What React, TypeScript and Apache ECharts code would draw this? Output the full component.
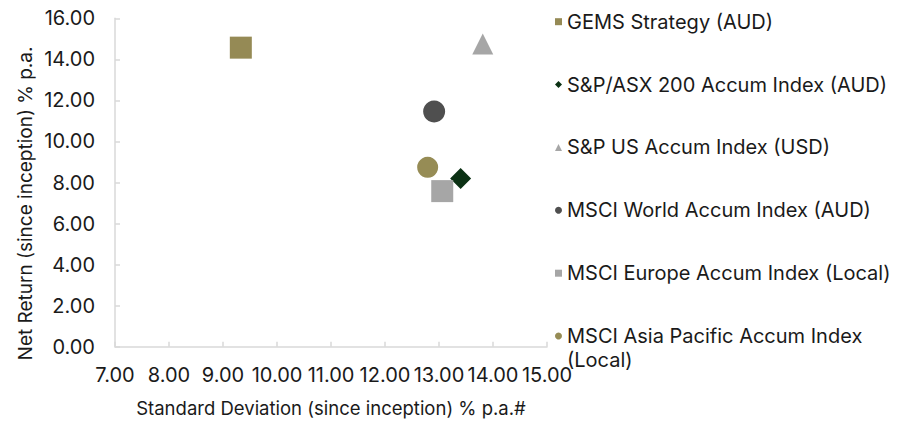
import React, { useEffect, useRef } from "react";
import * as echarts from "echarts";

const seriesNames = [
  "GEMS Strategy (AUD)",
  "S&P/ASX 200 Accum Index (AUD)",
  "S&P US Accum Index (USD)",
  "MSCI World Accum Index (AUD)",
  "MSCI Europe Accum Index (Local)",
  "MSCI Asia Pacific Accum Index (Local)",
];
// [standard deviation, net return]
const gemsStrategy = [[9.33, 14.57]];
const asx200 = [[13.4, 8.19]];
const spUs = [[13.81, 14.75]];
const msciWorld = [[12.91, 11.46]];
const msciEurope = [[13.06, 7.58]];
const msciAsiaPacific = [[12.79, 8.74]];

const seriesData = [gemsStrategy, asx200, spUs, msciWorld, msciEurope, msciAsiaPacific];
const symbols = ["rect", "diamond", "triangle", "circle", "rect", "circle"];
const symbolSizes: any[] = [22, 21, [21, 21], 22, 22, 21];
const colors = ["#958A55", "#0B3114", "#A6A6A6", "#4F4F4F", "#A6A6A6", "#968C55"];

const xMin = 7;
const xMax = 15;
const yMin = 0;
const yMax = 16;

const FONT = "Inter";
const TEXT = "#1A1A1A";
const AXIS = "#D9D9D9";

export default function App() {
  const ref = useRef<HTMLDivElement>(null);
  useEffect(() => {
    if (!ref.current) return;
    const chart = echarts.init(ref.current, null, { renderer: "svg" });
    const rowCenters = [21.7, 84.6, 147.4, 210.3, 273.2, 336];
    const LH = 24;
    const legends = seriesNames.map((name, i) => {
      const last = i === seriesNames.length - 1;
      return {
        left: 555,
        top: last ? rowCenters[i] - 1.5 * LH : rowCenters[i] - LH / 2,
        padding: 0,
        itemGap: 0,
        itemWidth: 7,
        itemHeight: 7,
        selectedMode: false,
        formatter: (n: string) =>
          n === "MSCI Asia Pacific Accum Index (Local)" ? "\nMSCI Asia Pacific Accum Index\n(Local)" : n,
        textStyle: { fontFamily: FONT, fontSize: 20, color: TEXT, lineHeight: LH },
        data: [name],
      };
    });
    chart.setOption({
      animation: false,
      textStyle: { fontFamily: FONT },
      grid: { left: 115, right: 361, top: 18.3, bottom: 77.3, containLabel: false },
      legend: legends,
      xAxis: {
        type: "value",
        min: xMin,
        max: xMax,
        interval: 1,
        name: "Standard Deviation (since inception) % p.a.#",
        nameLocation: "middle",
        nameGap: 52,
        nameTextStyle: { fontFamily: FONT, fontSize: 18.5, color: TEXT },
        axisLine: { show: true, lineStyle: { color: AXIS, width: 1.5 } },
        axisTick: { show: true, inside: true, length: 5, lineStyle: { color: AXIS, width: 1.5 } },
        splitLine: { show: false },
        axisLabel: {
          fontFamily: FONT,
          fontSize: 20,
          color: TEXT,
          margin: 18,
          formatter: (v: number) => v.toFixed(2),
        },
      },
      yAxis: {
        type: "value",
        min: yMin,
        max: yMax,
        interval: 2,
        name: "Net Return (since inception) % p.a.",
        nameLocation: "middle",
        nameGap: 80,
        nameTextStyle: { fontFamily: FONT, fontSize: 19, color: TEXT, padding: [0, 42, 0, 0] },
        axisLine: { show: true, lineStyle: { color: AXIS, width: 1.5 } },
        axisTick: { show: true, inside: true, length: 5, lineStyle: { color: AXIS, width: 1.5 } },
        splitLine: { show: false },
        axisLabel: {
          fontFamily: FONT,
          fontSize: 20,
          color: TEXT,
          margin: 20,
          formatter: (v: number) => v.toFixed(2),
        },
      },
      series: seriesNames.map((name, i) => ({
        name,
        type: "scatter",
        symbol: symbols[i],
        symbolSize: symbolSizes[i],
        itemStyle: { color: colors[i], opacity: 1 },
        data: seriesData[i],
        z: 2,
      })),
    });
    return () => chart.dispose();
  }, []);
  return (
    <div
      ref={ref}
      style={{ position: "absolute", left: 0, top: 0, width: 908, height: 424 }}
    />
  );
}
